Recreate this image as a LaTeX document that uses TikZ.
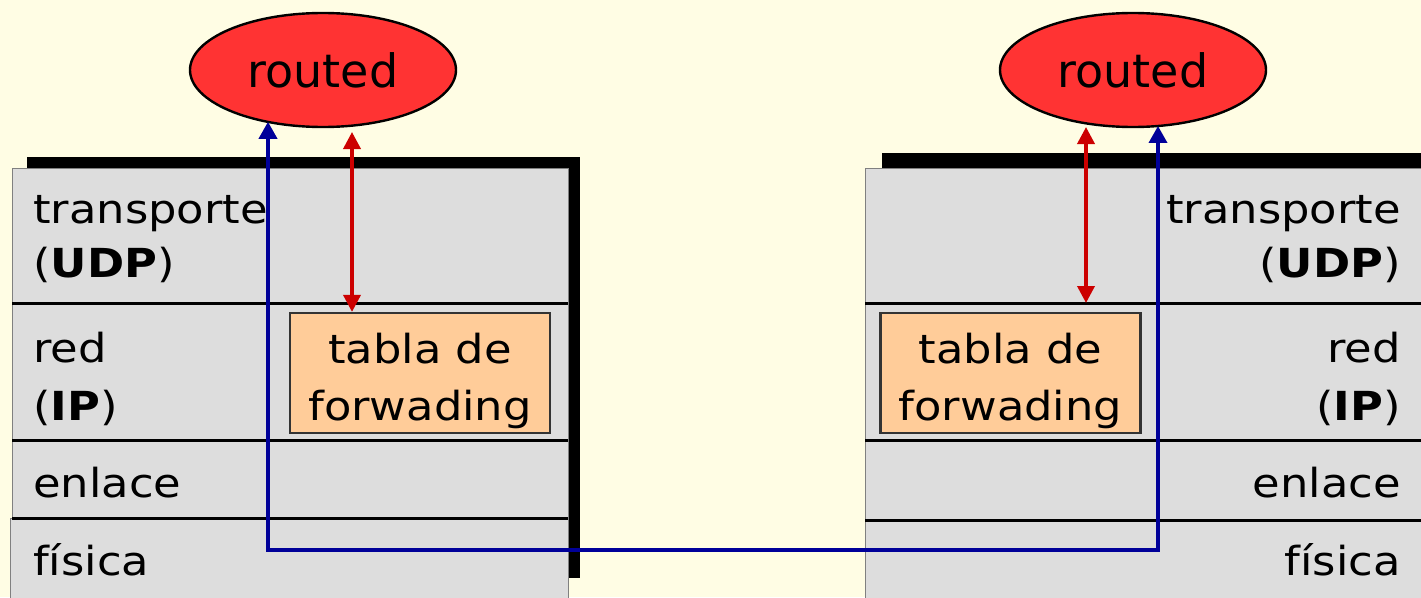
\documentclass[tikz,border=0pt]{standalone}
\usepackage{fontspec}
\setmainfont[FakeStretch=1.12]{DejaVu Sans}
\newfontfamily\ovalfont{DejaVu Sans}
\usetikzlibrary{shapes.geometric, positioning, arrows.meta, calc}

\definecolor{paper}{RGB}{255,253,228}
\definecolor{layergray}{RGB}{221,221,221}
\definecolor{ovalred}{RGB}{255,51,51}
\definecolor{fwdorange}{RGB}{255,204,153}
\definecolor{linkred}{RGB}{204,0,0}
\definecolor{linkblue}{RGB}{0,0,153}

\begin{document}
\begin{tikzpicture}[x=1pt,y=-1pt,
    layer/.style={rectangle,draw=black!50,line width=1pt,fill=layergray,inner sep=0pt,outer sep=0pt,
                  anchor=north west,minimum width=556pt},
    sepline/.style={black,line width=3pt},
    lefttext/.style={inner sep=0pt,anchor=base west,font=\fontsize{40}{48}\selectfont},
    righttext/.style={inner sep=0pt,anchor=base east,font=\fontsize{40}{48}\selectfont},
    oval/.style={ellipse,draw=black,line width=2.4pt,fill=ovalred,inner sep=0pt,outer sep=0pt,
                 minimum width=266pt,minimum height=114pt,font=\ovalfont\fontsize{46}{50}\selectfont},
    fwdbox/.style={rectangle,draw=black!80,line width=2.2pt,fill=fwdorange,inner sep=0pt,
                   minimum width=260pt,minimum height=120pt},
    fwdtext/.style={inner sep=0pt,anchor=base,font=\fontsize{40}{48}\selectfont},
    redlink/.style={linkred,line width=3.6pt,{Triangle[length=17pt,width=17pt]}-{Triangle[length=17pt,width=17pt]}},
    bluelink/.style={linkblue,line width=3.6pt,{Triangle[length=17pt,width=18pt]}-{Triangle[length=17pt,width=18pt]}}]

  \useasboundingbox (0,0) rectangle (1421,597);
  \clip (0,0) rectangle (1421,597);
  \fill[paper] (0,0) rectangle (1421,597);

  % shadows behind the stacks
  \fill[black] (27,157) rectangle (580,578);
  \fill[black] (882,153) rectangle (1440,610);

  % left stack
  \node[layer,minimum height=135pt] (transL) at (12,168) {};
  \node[layer,minimum height=137pt] (redL) at (transL.south west) {};
  \node[layer,minimum height=78pt] (enlL) at (redL.south west) {};
  \node[layer,minimum height=85pt,minimum width=558pt] (fisL) at ($(enlL.south west)+(-2,0)$) {};
  \draw[sepline] (transL.south west) -- (transL.south east);
  \draw[sepline] (redL.south west) -- (redL.south east);
  \draw[sepline] (enlL.south west) -- (enlL.south east);

  % right stack
  \node[layer,minimum height=135pt,minimum width=570pt] (transR) at (865,168) {};
  \node[layer,minimum height=137pt,minimum width=570pt] (redR) at (transR.south west) {};
  \node[layer,minimum height=80pt,minimum width=570pt] (enlR) at (redR.south west) {};
  \node[layer,minimum height=85pt,minimum width=570pt] (fisR) at (enlR.south west) {};
  \draw[sepline] (transR.south west) -- (transR.south east);
  \draw[sepline] (redR.south west) -- (redR.south east);
  \draw[sepline] (enlR.south west) -- (enlR.south east);

  % layer names
  \node[lefttext] (transLt) at (33,223) {transporte};
  \node[lefttext] (udpLt) at (33,277) {(\textbf{UDP})};
  \node[lefttext] (redLt) at (33,362) {red};
  \node[lefttext] (ipLt) at (33,420) {(\textbf{IP})};
  \node[lefttext] (enlLt) at (33,497) {enlace};
  \node[lefttext] (fisLt) at (33,575) {física};

  \node[righttext] (transRt) at (1401,223) {transporte};
  \node[righttext] (udpRt) at (1401,277) {(\textbf{UDP})};
  \node[righttext] (redRt) at (1401,362) {red};
  \node[righttext] (ipRt) at (1401,420) {(\textbf{IP})};
  \node[righttext] (enlRt) at (1401,497) {enlace};
  \node[righttext] (fisRt) at (1401,575) {física};

  % forwarding tables
  \node[fwdbox] (tablaL) at (420,373) {};
  \node[fwdtext] (tablaLa) at (420,363) {tabla de};
  \node[fwdtext] (tablaLb) at (420,420) {forwading};
  \node[fwdbox] (tablaR) at (1010.5,373) {};
  \node[fwdtext] (tablaRa) at (1010.5,363) {tabla de};
  \node[fwdtext] (tablaRb) at (1010.5,420) {forwading};

  % routing daemons
  \node[oval] (routedL) at (323,70) {routed};
  \node[oval] (routedR) at (1133,70) {routed};

  % daemon <-> table
  \coordinate (fwdL) at (352,132);
  \coordinate (fwdR) at (1086,127);
  \draw[redlink] (fwdL) -- (fwdL |- tablaL.north);
  \draw[redlink] (fwdR) -- (fwdR |- transR.south);

  % daemon to daemon through the stacks
  \coordinate (busL) at (268,550);
  \coordinate (busR) at (1158,550);
  \draw[bluelink] (routedL.223 -| busL) -- (busL) -- (busR) -- (routedR.294 -| busR);
\end{tikzpicture}
\end{document}
